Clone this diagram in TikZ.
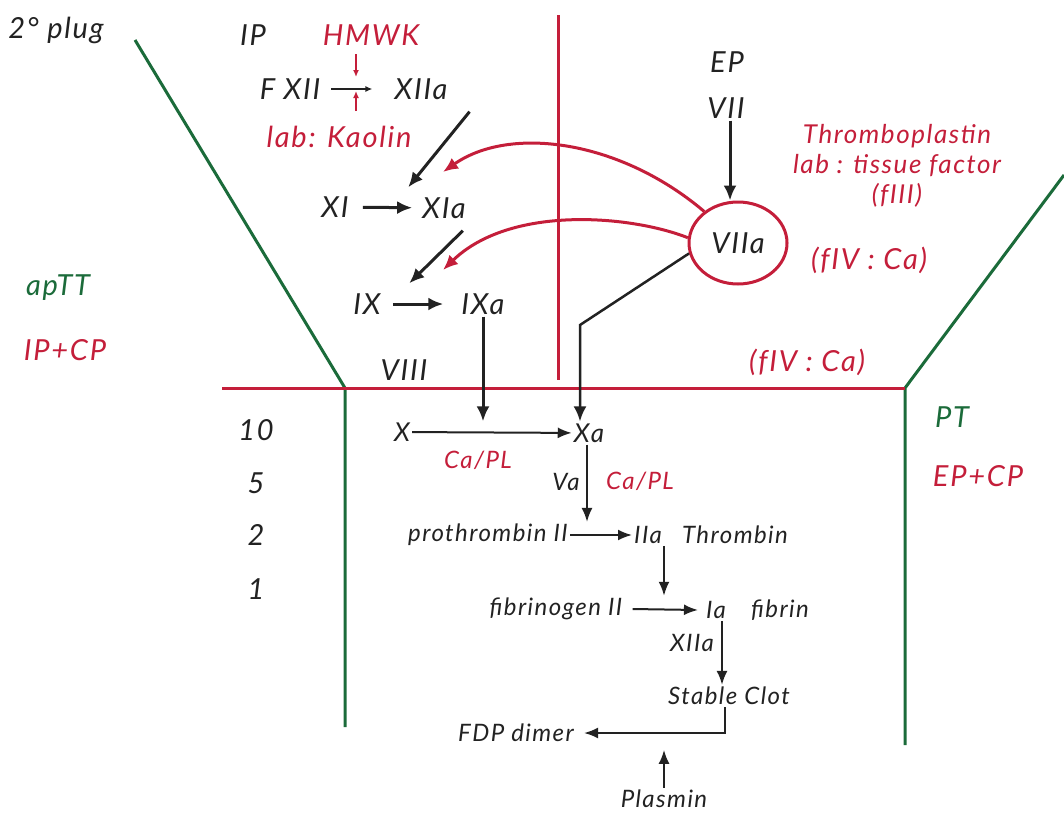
\documentclass[tikz,border=0pt]{standalone}
\usepackage{fontspec}
\setmainfont{Lato}[LetterSpace=6]
\usetikzlibrary{arrows.meta,positioning,shapes.geometric}

\definecolor{clotred}{HTML}{C41E3A}
\definecolor{plugreen}{HTML}{1B6B3A}
\definecolor{ink}{HTML}{222222}

\begin{document}
\begin{tikzpicture}[x=1pt, y=-1pt,
    lbl/.style={font=\fontsize{29}{31}\selectfont\itshape, text=ink, inner sep=2pt},
    sml/.style={font=\fontsize{24}{26}\selectfont\itshape, text=ink, inner sep=2pt},
    redlbl/.style={lbl, text=clotred},
    redsml/.style={sml, text=clotred},
    greenlbl/.style={lbl, text=plugreen},
    arr/.style={draw=ink, line width=3pt, -{Latex[length=15pt,width=13pt]}},
    thinarr/.style={draw=ink, line width=2pt, -{Latex[length=14pt,width=11pt]}},
    tinyarr/.style={draw=ink, line width=1.5pt, -{Latex[length=7pt,width=6pt]}},
    tinyred/.style={draw=clotred, line width=1.5pt, -{Latex[length=7pt,width=6pt]}},
    redarr/.style={draw=clotred, line width=3pt, -{Latex[length=15pt,width=13pt]}},
    wall/.style={draw=plugreen, line width=3pt},
    membrane/.style={draw=clotred, line width=3pt}]
    \useasboundingbox (0,0) rectangle (1064,814);

    % vessel walls and membrane
    \coordinate (wlt) at (135,40);
    \coordinate (wlk) at (345,388);
    \coordinate (wlb) at (345,727);
    \coordinate (wrt) at (1064,175);
    \coordinate (wrk) at (905,388);
    \coordinate (wrb) at (905,745);
    \coordinate (mleft) at (222,388);
    \coordinate (mtop) at (558,15);
    \coordinate (mbot) at (558,380);
    \draw[wall] (wlt) -- (wlk) -- (wlb);
    \draw[wall] (wrt) -- (wrk) -- (wrb);
    \draw[membrane] (mleft) -- (wrk);
    \draw[membrane] (mtop) -- (mbot);

    % side labels
    \node[lbl] (plug) at (56,30) {2° plug};
    \node[greenlbl] (aptt) at (58,288) {apTT};
    \node[redlbl] (ipcp) at (65,350) {IP+CP};
    \node[greenlbl] (pt) at (952,417) {PT};
    \node[redlbl] (epcp) at (978,476) {EP+CP};
    \node[lbl] (n10) at (256,430) {10};
    \node[lbl] (n5) at (256,483) {5};
    \node[lbl] (n2) at (256,535) {2};
    \node[lbl] (n1) at (256,589) {1};

    % intrinsic pathway
    \node[lbl] (ip) at (253,35) {IP};
    \node[redlbl] (hmwk) at (371,35) {HMWK};
    \node[lbl] (fxii) at (290,89) {F XII};
    \node[lbl] (xiia) at (421,89) {XIIa};
    \node[redlbl] (kaolin) at (339,137) {lab: Kaolin};
    \coordinate (act) at (356,82);
    \draw[tinyarr] ([xshift=9]fxii.east) -- ([xshift=-20]xiia.west);
    \draw[tinyred] ([yshift=-29]act) -- ([yshift=-9]act);
    \draw[tinyred] ([yshift=28]act) -- ([yshift=5]act);

    \node[lbl] (xi) at (335,207) {XI};
    \node[lbl] (xia) at (444,208) {XIa};
    \node[lbl] (ix) at (367,304) {IX};
    \node[lbl] (ixa) at (483,304) {IXa};
    \node[lbl] (viii) at (404,370) {VIII};
    \draw[arr] ([shift={(20,10)}]xiia.south east) -- ([shift={(-12,-8)}]xia.north west);
    \draw[arr, shorten <=12pt, shorten >=8pt] (xi) -- (xia);
    \draw[arr] ([shift={(-5,10)}]xia.south east) -- ([shift={(-50,-8)}]ixa.north west);
    \draw[arr, shorten <=10pt, shorten >=16pt] (ix) -- (ixa);

    % extrinsic pathway
    \node[lbl] (ep) at (727,62) {EP};
    \node[lbl] (vii) at (726,108) {VII};
    \node[ellipse, draw=clotred, line width=3pt, minimum width=98pt, minimum height=82pt, lbl] (viia) at (738,243) {VIIa};
    \node[redsml, font=\fontsize{26}{30}\selectfont\itshape, align=center] (tf) at (897,166) {Thromboplastin\\lab : tissue factor\\(fIII)};
    \node[redlbl] (caa) at (869,260) {(fIV : Ca)};
    \node[redlbl] (cab) at (807,362) {(fIV : Ca)};
    \draw[arr] ([xshift=-8]viia.north |- vii.south) -- ([xshift=-8]viia.north);
    \coordinate (tipxi) at (443,172);
    \coordinate (tipix) at (443,270);
    \coordinate (bend) at (580,325);
    \draw[redarr] (viia.137) .. controls (620,140) and (510,125) .. (tipxi);
    \draw[redarr] (viia.174) .. controls (630,215) and (510,205) .. (tipix);

    % common pathway
    \node[lbl, font=\fontsize{26}{28}\selectfont\itshape] (x) at (402,432) {X};
    \node[lbl, font=\fontsize{26}{28}\selectfont\itshape] (xa) at (589,433) {Xa};
    \node[redsml] (capla) at (478,460) {Ca/PL};
    \node[sml] (va) at (566,482) {Va};
    \node[redsml] (caplb) at (640,481) {Ca/PL};
    \draw[arr] (ixa.south) -- (ixa.south |- xa.north);
    \draw[arr, line width=2.5pt] (viia.192) -- (bend) -- ([xshift=-9]xa.north);
    \draw[thinarr] (x) -- (xa);

    \node[sml] (proth) at (488,535) {prothrombin II};
    \node[sml] (iia) at (648,535) {IIa};
    \node[sml] (thromb) at (735,535) {Thrombin};
    \node[sml] (fibgn) at (556,609) {fibrinogen II};
    \node[sml] (ia) at (716,610) {Ia};
    \node[sml] (fibrin) at (780,610) {fibrin};
    \node[sml] (xiiab) at (692,643) {XIIa};
    \node[sml] (clot) at (729,696) {Stable Clot};
    \node[sml] (fdp) at (516,733) {FDP dimer};
    \node[sml] (plasmin) at (664,799) {Plasmin};
    \draw[thinarr] ([xshift=-2]xa.south) -- ([xshift=-2]xa.south |- proth.north);
    \draw[thinarr] (proth) -- (iia);
    \draw[thinarr] ([xshift=16]iia.south) -- ([xshift=16]iia.south |- fibgn.north);
    \draw[thinarr] ([xshift=8]fibgn.east) -- ([xshift=-6]ia.west);
    \draw[thinarr] ([xshift=6]ia.south) -- ([xshift=6]ia.south |- clot.north);
    \draw[thinarr] ([xshift=-4]clot.south) |- ([xshift=8]fdp.east);
    \draw[thinarr] (plasmin.north) -- ++(0,-38);
\end{tikzpicture}
\end{document}
